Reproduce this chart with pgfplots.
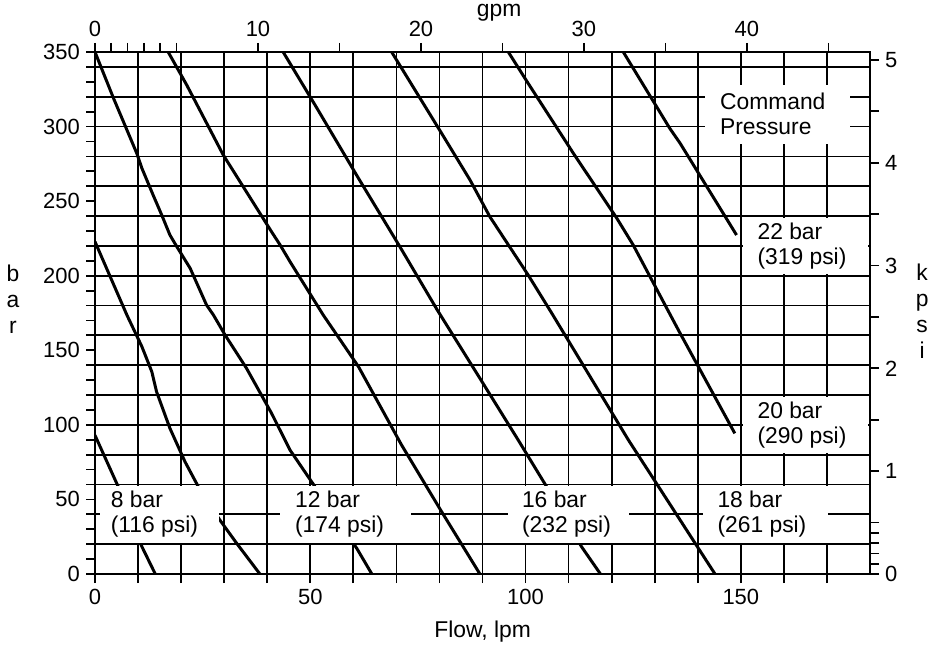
\documentclass[border=0pt]{standalone}
\usepackage{fontspec}
\setmainfont{Liberation Sans}
\usepackage{pgfplots}
\pgfplotsset{compat=1.18}

% 1 px of the 938x646 reference = 0.02cm
\newcommand\lab{\fontsize{13}{14.2}\selectfont}
\newcommand\stack{\fontsize{13}{14.8}\selectfont}

\pgfplotsset{
  chartbase/.style={
    scale only axis, width=15.5cm, height=10.44cm,
    at={(1.9cm,1.44cm)}, anchor=south west,
    tick align=outside,
    major tick length=0.18cm, minor tick length=0.18cm,
    every tick/.style={black, line width=1pt},
    axis line style={black, line width=1pt},
    tick label style={font=\fontsize{12.5}{14}\selectfont},
    /pgf/number format/assume math mode=true,
  },
  curve/.style={black, line width=1.7pt, mark=none},
}

\begin{document}
\begin{tikzpicture}
\useasboundingbox (0,0) rectangle (18.76cm,12.92cm);

% grid, curves and labels
\begin{axis}[chartbase,
  xmin=0, xmax=180, ymin=0, ymax=350,
  xtick={10,20,...,170}, ytick={20,40,...,340},
  xticklabels={}, yticklabels={},
  major tick length=0pt,
  grid=major,
  grid style={black, line width=1pt},
]
\addplot[curve] coordinates {(0,93) (5.4,58.5) (10.9,18.3) (14,0)};
\addplot[curve] coordinates {(0,222.8) (7.4,173.7) (10.9,152.4) (13.2,135.6)
  (14.3,122.2) (17.4,97.7) (20.9,75.3) (24,58.5) (29,36.2) (32.9,20.6) (38.3,0)};
\addplot[curve] coordinates {(0,350) (4.3,319) (6.6,303.3) (9.7,282.1) (10.9,272)
  (13.5,254.1) (15.5,240.7) (17.4,227.3) (19,219.5) (22.1,205) (25.9,180.4)
  (27.5,173.7) (30.2,160.3) (35.2,137.9) (41,107.8) (45.3,83.1) (51.1,58.5)
  (60.8,17.2) (64.3,0)};
\addplot[curve] coordinates {(17,350) (21.3,327.9) (29.8,280.9) (41,229.5)
  (43,220.6) (45.3,209.4) (53,173.7) (61.2,139) (71.2,86.5) (80.5,41.8) (89.4,0)};
\addplot[curve] coordinates {(43.7,350) (51.1,314.5) (61.2,265.3) (70.8,219.5)
  (79.5,177) (89.4,131.2) (98.3,89.8) (104.9,58.5) (113,18.3) (117.4,0)};
\addplot[curve] coordinates {(68.9,350) (80.5,295.5) (87.1,264.2) (91.7,239.6)
  (100.6,200.5) (106.1,174.8) (123.9,89.8) (144,0)};
\addplot[curve] coordinates {(96,350) (100.6,329) (111.1,282.1) (121.2,238.5)
  (125,220.6) (132.8,178.2) (135.9,161.4) (148.6,94.3)};
\addplot[curve] coordinates {(122.7,350) (133.5,298.8) (135.9,288.8) (149,227.3)};

% label boxes
\fill[white] (axis cs:1.2,21) rectangle (axis cs:28.8,59);
\fill[white] (axis cs:43,21) rectangle (axis cs:73.5,59);
\fill[white] (axis cs:95.9,21) rectangle (axis cs:124,59);
\fill[white] (axis cs:141.1,21) rectangle (axis cs:170.2,59);
\fill[white] (axis cs:150.5,81) rectangle (axis cs:179.6,119);
\fill[white] (axis cs:150.5,201) rectangle (axis cs:179.6,239);
\fill[white] (axis cs:141.7,288) rectangle (axis cs:175.3,328);

\node[anchor=west, align=left, inner sep=0, font=\lab] at (axis cs:3.6,40) {8 bar\\(116 psi)};
\node[anchor=west, align=left, inner sep=0, font=\lab] at (axis cs:46.4,40) {12 bar\\(174 psi)};
\node[anchor=west, align=left, inner sep=0, font=\lab] at (axis cs:99.1,40) {16 bar\\(232 psi)};
\node[anchor=west, align=left, inner sep=0, font=\lab] at (axis cs:144.5,40) {18 bar\\(261 psi)};
\node[anchor=west, align=left, inner sep=0, font=\lab] at (axis cs:153.8,100) {20 bar\\(290 psi)};
\node[anchor=west, align=left, inner sep=0, font=\lab] at (axis cs:153.8,220) {22 bar\\(319 psi)};
\node[anchor=west, align=left, inner sep=0, font=\lab] at (axis cs:145.1,308.4) {Command\\Pressure};
\end{axis}

% frame, bottom and left ticks: lpm / bar
\begin{axis}[chartbase,
  xmin=0, xmax=180, ymin=0, ymax=350,
  xtick={0,10,...,170},
  xticklabels={0,,,,,50,,,,,100,,,,,150,,},
  ytick={0,50,...,350},
  minor ytick={0,10,...,350},
  xtick pos=bottom, ytick pos=left,
]
\end{axis}

% top axis: gpm
\begin{axis}[chartbase,
  xmin=0, xmax=47.5509, ymin=0, ymax=1,
  axis x line*=top, axis y line=none,
  xtick={0,10,20,30,40},
  minor xtick={1,2,3,4,5,15,25,35,45},
]
\end{axis}

% right axis: kpsi
\begin{axis}[chartbase,
  xmin=0, xmax=1, ymin=0, ymax=5.07634,
  axis y line*=right, axis x line=none,
  ytick={0,1,2,3,4,5},
  minor ytick={0.1,0.2,0.3,0.4,0.5,1.5,2.5,3.5,4.5},
]
\end{axis}

\begin{scope}[x=0.02cm, y=0.02cm]
\node[font=\lab] at (499,633) {gpm};
\node[font=\lab] at (482.5,14) {Flow, lpm};
\node[font=\stack, align=center] at (13,347) {b\\a\\r};
\node[font=\stack, align=center] at (922,335) {k\\p\\s\\i};
\end{scope}
\end{tikzpicture}
\end{document}
